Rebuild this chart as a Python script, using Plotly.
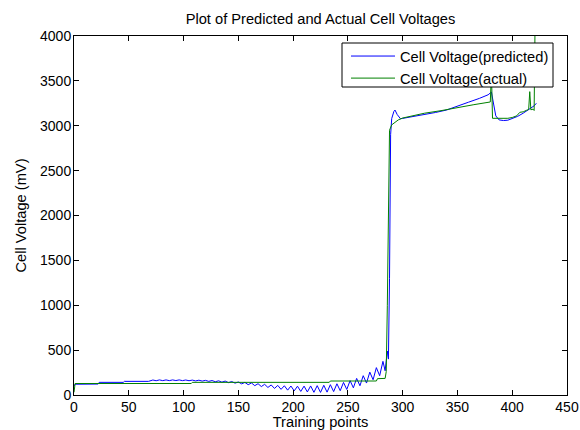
import plotly.graph_objects as go

# Predicted cell voltage (blue)
pred_x = [0, 1, 22, 23, 45, 46, 68, 69, 72, 75, 78, 81, 84, 87, 90, 93, 96, 99, 102, 105,
          108, 111, 114, 117, 120, 123, 126, 129, 132, 135, 138, 141, 144, 147, 150, 153,
          156, 159, 162, 165, 168, 171, 174, 177, 180, 183, 186, 189, 192, 195, 198, 201,
          204, 207, 210, 213, 216, 219, 222, 225, 228, 231, 234, 237, 240, 243, 246, 249,
          252, 255, 258, 261, 264, 267, 270, 273, 276, 279, 282, 284, 286, 287, 288, 289,
          290, 292, 293, 295, 298, 300, 310, 320, 330, 340, 350, 360, 370, 378, 381, 383,
          385, 388, 392, 396, 400, 405, 410, 415, 420, 422]
pred_y = [100, 120, 122, 141, 141, 152, 152, 158, 167, 159, 168, 160, 168, 160, 168, 161,
          168, 160, 167, 159, 166, 157, 165, 155, 163, 152, 161, 148, 158, 143, 155, 138,
          150, 132, 145, 124, 140, 115, 134, 104, 126, 94, 119, 84, 112, 73, 107, 63, 103,
          54, 100, 46, 98, 40, 99, 34, 101, 30, 104, 29, 108, 32, 115, 38, 125, 48, 140, 62,
          160, 80, 185, 103, 215, 133, 255, 170, 305, 215, 375, 270, 490, 400, 1300, 2900,
          3080, 3160, 3175, 3125, 3078, 3082, 3102, 3125, 3148, 3175, 3215, 3262, 3305,
          3345, 3375, 3230, 3110, 3065, 3058, 3062, 3078, 3105, 3140, 3180, 3222, 3250]

# Actual cell voltage (green)
act_x = [0, 1, 107, 108, 233, 234, 276, 277, 284, 285, 286, 287, 288, 290, 293, 296, 300,
         310, 320, 335, 350, 365, 380, 381, 382, 396, 400, 404, 407, 410, 413, 415, 416,
         417, 419, 420, 421]
act_y = [30, 128, 128, 141, 141, 156, 156, 182, 185, 260, 1000, 2400, 2950, 3010, 3040,
         3065, 3086, 3115, 3140, 3168, 3205, 3235, 3265, 3600, 3083, 3083, 3092, 3110,
         3150, 3155, 3172, 3180, 3380, 3178, 3185, 3170, 4300]

x_ticks = [0, 50, 100, 150, 200, 250, 300, 350, 400, 450]
y_ticks = [0, 500, 1000, 1500, 2000, 2500, 3000, 3500, 4000]

FONT = "Liberation Sans, Arial, Helvetica, sans-serif"
TXT = 14.67
TICK = 14

# plot area in pixels: x 74..567, y 36..395
L, R, T, B = 74, 567, 36, 395
def px_x(p):
    return (p - L) / (R - L)
def px_y(p):
    return (B - p) / (B - T)

fig = go.Figure()
fig.add_trace(go.Scatter(x=pred_x, y=pred_y, mode="lines", name="Cell Voltage(predicted)",
                         line=dict(color="#0000FF", width=1)))
fig.add_trace(go.Scatter(x=act_x, y=act_y, mode="lines", name="Cell Voltage(actual)",
                         line=dict(color="#008000", width=1)))

axis_common = dict(showline=True, linecolor="black", linewidth=1, mirror="ticks",
                   ticks="inside", ticklen=5, tickcolor="black", tickwidth=1,
                   showgrid=False, zeroline=False, automargin=False,
                   tickfont=dict(family=FONT, size=TICK, color="black"))

fig.update_layout(
    width=580, height=430,
    margin=dict(l=L, r=580 - R, t=T, b=430 - B),
    paper_bgcolor="white", plot_bgcolor="white",
    font=dict(family=FONT, size=TXT, color="black"),
    title=dict(text="Plot of Predicted and Actual Cell Voltages", x=0.5, xref="paper",
               xanchor="center", y=1 - 19 / 430, yref="container", yanchor="middle",
               font=dict(family=FONT, size=TXT, color="black")),
    xaxis=dict(range=[0, 450], tickvals=x_ticks, ticktext=[str(v) for v in x_ticks],
               title=dict(text="Training points", standoff=5,
                          font=dict(family=FONT, size=TXT, color="black")),
               ticklabelstandoff=-1, **axis_common),
    yaxis=dict(range=[0, 4000], tickvals=y_ticks, ticktext=[str(v) for v in y_ticks],
               title=dict(text="Cell Voltage (mV)", standoff=9,
                          font=dict(family=FONT, size=TXT, color="black")),
               ticklabelstandoff=-1, **axis_common),
    showlegend=True,
    legend=dict(x=px_x(346), y=px_y(40), xanchor="left", yanchor="top",
                bgcolor="rgba(0,0,0,0)", borderwidth=0,
                font=dict(family=FONT, size=TXT, color="black"),
                itemwidth=44, tracegroupgap=0),
    shapes=[dict(type="rect", xref="paper", yref="paper", layer="above",
                 x0=px_x(342), x1=px_x(553), y0=px_y(87), y1=px_y(43),
                 fillcolor="white", line=dict(color="black", width=1))],
)

fig.write_html("out.html", config={"displayModeBar": False},
               post_script="document.body.style.margin='0px';")
